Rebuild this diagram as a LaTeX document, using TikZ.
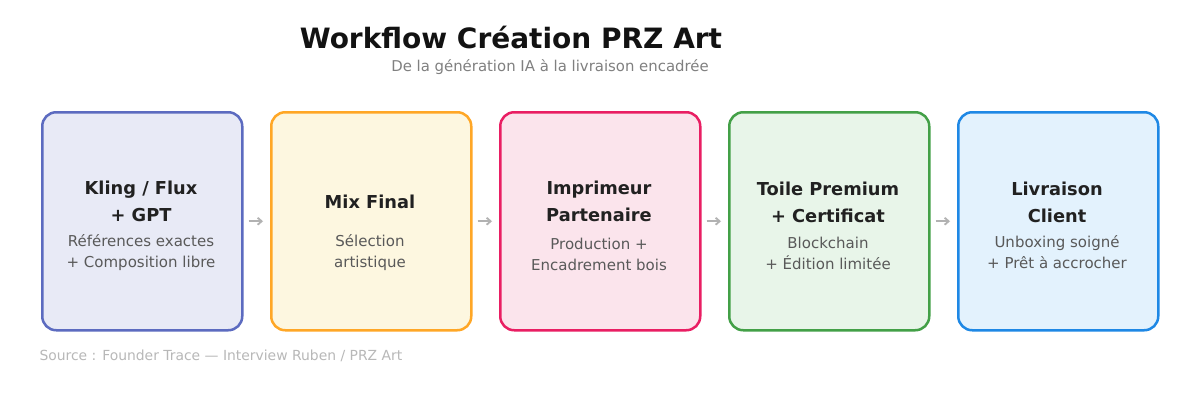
\documentclass[tikz,border=0pt]{standalone}
\usepackage{fontspec}
\setmainfont{DejaVu Sans}
\usetikzlibrary{arrows.meta}
\definecolor{bd1}{RGB}{92,107,192}\definecolor{fl1}{RGB}{232,234,246}
\definecolor{bd2}{RGB}{255,167,38}\definecolor{fl2}{RGB}{253,247,224}
\definecolor{bd3}{RGB}{233,30,99}\definecolor{fl3}{RGB}{251,228,236}
\definecolor{bd4}{RGB}{67,160,71}\definecolor{fl4}{RGB}{232,245,233}
\definecolor{bd5}{RGB}{30,136,229}\definecolor{fl5}{RGB}{227,242,253}
\begin{document}
\begin{tikzpicture}[x=1pt,y=-1pt,
  card/.style={draw=bd#1,fill=fl#1,line width=2.5pt,rounded corners=14pt,minimum width=200pt,minimum height=218pt,anchor=north west},
  ttl/.style={font=\bfseries\fontsize{17.8}{27}\selectfont,text=black!87,align=center},
  sub/.style={font=\fontsize{15}{21}\selectfont,text=black!65,align=center},
  conn/.style={draw=black!30,line width=1.8pt,-{Straight Barb[length=4pt,width=7pt]},shorten <=5pt,shorten >=7pt}]
\useasboundingbox[fill=white] (0,0) rectangle (1200,420);
\node[font=\bfseries\fontsize{28}{30}\selectfont,text=black!93] (title) at (511,38) {Workflow Création PRZ Art};
\node[font=\fontsize{14.9}{16}\selectfont,text=black!50] (subt) at (550,67) {De la génération IA à la livraison encadrée};
\node[card=1] (b1) at (41,111) {};
\node[card=2] (b2) at (270,111) {};
\node[card=3] (b3) at (499,111) {};
\node[card=4] (b4) at (728,111) {};
\node[card=5] (b5) at (957,111) {};
\node[ttl] (t1) at (141,201) {Kling / Flux\\+ GPT};
\node[sub] (s1) at (141,253) {Références exactes\\+ Composition libre};
\node[ttl] (t2) at (370,202) {Mix Final};
\node[sub] (s2) at (370,253) {Sélection\\artistique};
\node[ttl] (t3) at (599,201) {Imprimeur\\Partenaire};
\node[sub] (s3) at (599,254) {Production +\\Encadrement bois};
\node[ttl] (t4) at (828,202) {Toile Premium\\+ Certificat};
\node[sub] (s4) at (828,253) {Blockchain\\+ Édition limitée};
\node[ttl] (t5) at (1057,202) {Livraison\\Client};
\node[sub] (s5) at (1057,252.5) {Unboxing soigné\\+ Prêt à accrocher};
\draw[conn] (b1.east) -- (b2.west);
\draw[conn] (b2.east) -- (b3.west);
\draw[conn] (b3.east) -- (b4.west);
\draw[conn] (b4.east) -- (b5.west);
\node[font=\fontsize{13.9}{15}\selectfont,text=black!28,anchor=west] (src) at (36,356) {Source : Founder Trace — Interview Ruben / PRZ Art};
\end{tikzpicture}
\end{document}
